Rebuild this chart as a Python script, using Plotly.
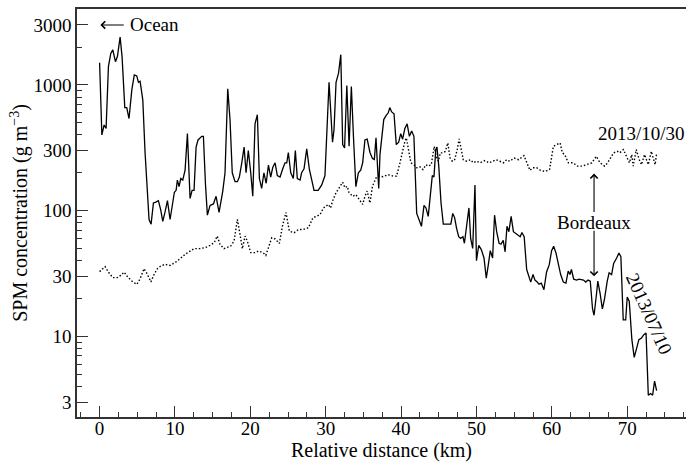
import math
import plotly.graph_objects as go

# ---- 2013/07/10 (solid) ----
jul_km = [0.0, 0.3, 0.6, 0.86, 1.17, 1.48, 1.75, 2.1, 2.36, 2.72, 2.98, 3.34, 3.6, 3.9, 4.27, 4.6, 4.93,
          5.15, 5.37, 5.73, 6.03, 6.34, 6.56, 6.83, 7.14, 7.45, 7.8, 8.1, 8.38, 8.69, 9.0, 9.35, 9.66,
          9.92, 10.15, 10.32, 10.54, 10.77, 11.03, 11.34, 11.65, 12.0, 12.27, 12.53, 12.8, 13.06, 13.55,
          13.77, 14.05, 14.3, 14.65, 15.1, 15.45, 15.85, 16.34, 16.64, 17.0, 17.3, 17.6, 17.97, 18.28,
          18.54, 18.86, 19.17, 19.43, 19.73, 20.05, 20.32, 20.62, 20.93, 21.2, 21.5, 21.8, 22.1, 22.4,
          22.7, 22.97, 23.28, 23.58, 23.94, 24.3, 24.6, 24.83, 25.04, 25.36, 25.7, 25.97, 26.23, 26.6,
          26.8, 27.12, 27.48, 27.82, 28.14, 28.45, 29.0, 29.47, 29.9, 30.44, 30.9, 31.1, 31.37, 31.7,
          32.0, 32.25, 32.5, 32.8, 33.1, 33.4, 33.7, 34.0, 34.33, 34.64, 34.9, 35.2, 35.5, 35.87, 36.2,
          36.45, 36.67, 37.03, 37.2, 37.47, 37.7, 38.0, 38.3, 38.5, 38.75, 39.06, 39.36, 39.68, 39.95,
          40.2, 40.5, 40.8, 41.1, 41.4, 41.7, 42.07, 42.4, 42.7, 43.04, 43.3, 43.6, 43.83, 44.14, 44.36,
          44.6, 44.76, 45.0, 45.3, 45.6, 46.05, 46.6, 46.85, 47.1, 47.37, 47.64, 47.9, 48.2, 48.4, 48.7,
          49.0, 49.23, 49.5, 49.8, 50.0, 50.3, 50.64, 51.0, 51.3, 51.57, 51.83, 52.14, 52.4, 52.68, 53.0,
          53.25, 53.55, 53.8, 54.05, 54.3, 54.6, 54.9, 55.2, 55.5, 55.8, 56.03, 56.33, 56.66, 57.0, 57.2,
          57.5, 57.76, 58.06, 58.3, 58.6, 58.95, 59.3, 59.65, 59.97, 60.24, 60.55, 60.85, 61.17, 61.52,
          61.87, 62.17, 62.4, 62.6, 62.9, 63.3, 63.6, 64.2, 64.5, 64.8, 65.1, 65.4, 65.6, 65.9, 66.1,
          66.4, 66.7, 66.8, 67.0, 67.35, 67.6, 67.93, 68.2, 68.6, 68.9, 69.16, 69.47, 69.8, 70.0, 70.27,
          70.62, 70.93, 71.24, 71.55, 71.9, 72.2, 72.5, 72.8, 73.1, 73.37, 73.63, 73.9]
jul_spm = [1500, 400, 480, 450, 1400, 1780, 1900, 1530, 1680, 2400, 1680, 660, 660, 540, 910, 1200, 1180,
           1050, 1070, 760, 290, 120, 85, 78, 115, 117, 120, 102, 82, 98, 120, 85, 115,
           140, 145, 175, 155, 180, 175, 210, 410, 125, 145, 145, 320, 365, 390,
           390, 160, 92, 110, 113, 130, 97, 143, 200, 930, 530, 200, 170, 170,
           185, 240, 320, 200, 300, 200, 130, 490, 580, 180, 150, 200, 165, 230,
           185, 220, 240, 190, 185, 215, 240, 240, 290, 200, 180, 300, 180, 175,
           200, 215, 310, 215, 175, 145, 145, 160, 190, 1050, 350, 440, 1050, 1240,
           1740, 335, 315, 990, 325, 970, 365, 155, 200, 210, 240, 365, 370, 290, 260,
           255, 380, 150, 280, 430, 530, 570, 600, 660, 610, 590, 335, 350, 410,
           370, 450, 490, 390, 430, 390, 95, 82, 75, 110, 105, 90, 130, 190, 185,
           305, 320, 225, 115, 78, 78, 78, 95, 88, 72, 62, 60, 62, 55, 75,
           105, 60, 50, 160, 40, 53, 49, 42, 29, 37, 48, 42, 92, 68, 55,
           54, 58, 47, 75, 68, 90, 68, 66, 64, 62, 67, 62, 34, 30, 27,
           31, 28, 27, 26, 26.5, 23.5, 32.5, 37, 48, 52, 46, 37, 31, 27,
           26.5, 33, 31, 34, 28.5, 28, 28.5, 28, 27, 28, 27.5, 16.5, 14.7, 21, 27.5,
           22, 16.5, 17.5, 20, 27.5, 32, 31, 38, 42, 46, 43, 13.5, 13.5, 20.5, 19,
           9.4, 6.8, 7.9, 9.4, 9.7, 10.3, 10.6, 3.4, 3.5, 3.4, 4.4, 3.7]

# ---- 2013/10/30 (dotted) ----
oct_km = [0.0, 0.73, 1.17, 1.75, 2.36, 2.8, 3.25, 3.7, 4.27, 4.93, 5.37, 5.9, 6.34, 6.8, 7.23, 7.67, 8.1,
          8.69, 9.35, 10.0, 10.7, 11.34, 12.0, 12.53, 13.24, 14.0, 14.65, 15.2, 15.6, 15.98, 16.5, 16.95,
          17.4, 17.84, 18.28, 18.63, 18.94, 19.3, 19.6, 20.05, 20.62, 21.05, 21.7, 22.05, 22.4, 22.84,
          23.28, 23.85, 24.25, 24.73, 25.17, 25.8, 26.4, 27.0, 27.7, 28.3, 28.8, 29.25, 29.7, 30.35,
          30.65, 30.9, 31.37, 31.9, 32.25, 32.55, 32.85, 33.1, 33.6, 34.0, 34.45, 34.9, 35.2, 35.5,
          35.87, 36.2, 36.67, 37.0, 37.6, 38.3, 38.95, 39.4, 39.85, 40.2, 40.5, 40.7, 40.95, 41.3, 41.7,
          42.07, 42.5, 42.9, 43.3, 43.6, 44.0, 44.4, 44.65, 44.95, 45.2, 45.5, 45.85, 46.2, 46.5, 46.8,
          47.1, 47.45, 47.7, 48.0, 48.25, 48.7, 49.2, 49.6, 50.0, 50.5, 51.1, 51.7, 52.1, 52.6, 53.1,
          53.6, 54.0, 54.4, 55.0, 55.6, 56.3, 56.6, 57.1, 57.5, 58.0, 58.5, 59.1, 59.7, 60.2, 60.6,
          61.1, 61.4, 61.7, 62.2, 62.8, 63.4, 64.0, 64.6, 65.3, 65.9, 66.4, 67.0, 67.4, 68.2, 68.7,
          69.0, 69.5, 69.9, 70.3, 70.6, 70.8, 71.2, 71.6, 71.9, 72.3, 72.8, 73.2, 73.7, 73.9]
oct_spm = [32.7, 35.8, 32.4, 29.3, 29.3, 30.5, 32.4, 29.8, 27.5, 25.9, 28.7, 34.5, 31.1, 27.1, 31.1, 34.5, 36.2,
           37.4, 36.6, 38.5, 41.5, 44.9, 47.6, 49.8, 49.8, 50.7, 52.9, 55.5, 62.7, 53.8, 49.8, 50.7,
           52.3, 57.2, 85, 64.6, 49.8, 62.7, 57.2, 46.3, 46.3, 47.6, 46.3, 44, 50.7, 60.8,
           59.5, 54.8, 75, 96.6, 68.6, 66.7, 70.8, 70.8, 73, 87.6, 90.3, 93, 105, 112,
           105, 119, 139, 156, 168, 152, 156, 139, 130, 134, 122, 112, 130, 143,
           115, 156, 182, 188, 186, 193, 188, 188, 240, 306, 355, 379, 306, 240, 232,
           219, 223, 212, 232, 226, 232, 324, 270, 247, 288, 288, 295, 345, 262, 247,
           254, 306, 372, 296, 254, 247, 254, 240, 247, 240, 250, 240, 247, 254, 247,
           240, 254, 247, 262, 254, 274, 247, 209, 219, 219, 209, 205, 212, 324, 335,
           345, 288, 279, 240, 240, 226, 226, 232, 240, 270, 240, 226, 240, 288, 296,
           288, 306, 270, 240, 279, 226, 306, 254, 232, 279, 232, 296, 232, 284]

y_major = [3, 10, 30, 100, 300, 1000, 3000]
y_minor = [4, 5, 6, 7, 8, 9, 20, 40, 50, 60, 70, 80, 90, 200, 400, 500, 600, 700, 800, 900, 2000]
x_major = [0, 10, 20, 30, 40, 50, 60, 70]

FONT = "Liberation Serif"
AX = "#333333"

fig = go.Figure()
fig.add_trace(go.Scatter(x=jul_km, y=jul_spm, mode="lines",
                         line=dict(color="black", width=1.3), showlegend=False))
fig.add_trace(go.Scatter(x=oct_km, y=oct_spm, mode="lines",
                         line=dict(color="black", width=1.4, dash="1.5px,2px"), showlegend=False))

L = math.log10
ann = []
# Ocean arrow + text
ann.append(dict(x=0.1, y=L(3000), ax=3.4, ay=L(3000), axref="x", ayref="y", xref="x", yref="y",
                text="", showarrow=True, arrowhead=4, arrowsize=1.3, arrowwidth=1.1, arrowcolor="black"))
ann.append(dict(x=3.7, y=L(3000), xref="x", yref="y", text="Ocean", showarrow=False,
                xanchor="left", yanchor="middle", font=dict(family=FONT, size=19, color="black")))
ann.append(dict(x=71.95, y=L(409), xref="x", yref="y", text="2013/10/30", showarrow=False,
                xanchor="center", yanchor="middle", font=dict(family=FONT, size=19, color="black")))
ann.append(dict(x=65.6, y=L(81), xref="x", yref="y", text="Bordeaux", showarrow=False,
                xanchor="center", yanchor="middle", font=dict(family=FONT, size=19, color="black")))
ann.append(dict(x=65.6, y=L(197), ax=65.6, ay=L(95), axref="x", ayref="y", xref="x", yref="y",
                text="", showarrow=True, arrowhead=4, arrowsize=1.3, arrowwidth=1.1, arrowcolor="black"))
ann.append(dict(x=65.6, y=L(30), ax=65.6, ay=L(71), axref="x", ayref="y", xref="x", yref="y",
                text="", showarrow=True, arrowhead=4, arrowsize=1.3, arrowwidth=1.1, arrowcolor="black"))
ann.append(dict(x=72.9, y=L(15.2), xref="x", yref="y", text="2013/07/10", showarrow=False,
                textangle=66, xanchor="center", yanchor="middle",
                font=dict(family=FONT, size=19, color="black")))

fig.update_layout(
    width=686, height=462,
    margin=dict(l=77, r=0, t=9, b=45),
    paper_bgcolor="white", plot_bgcolor="white",
    font=dict(family=FONT, size=19, color="black"),
    annotations=ann,
    xaxis=dict(
        range=[-3, 77.8], tickmode="array", tickvals=x_major,
        ticks="inside", ticklen=11, tickwidth=1.3, tickcolor=AX,
        ticklabelstandoff=-7,
        minor=dict(dtick=2.5, tick0=0, ticks="inside", ticklen=5, tickwidth=1.2, tickcolor=AX),
        showline=True, linecolor=AX, linewidth=1.5, mirror=True,
        showgrid=False, zeroline=False,
        tickfont=dict(family=FONT, size=19, color="black"),
        title=dict(text="Relative distance (km)", font=dict(family=FONT, size=20, color="black"),
                   standoff=9),
        automargin=False,
    ),
    yaxis=dict(
        type="log", range=[L(2.28), L(4018)],
        tickmode="array", tickvals=y_major, ticktext=[str(v) for v in y_major],
        ticks="inside", ticklen=11, tickwidth=1.3, tickcolor=AX,
        minor=dict(tickmode="array", tickvals=y_minor, ticks="inside", ticklen=5,
                   tickwidth=1.2, tickcolor=AX),
        showline=True, linecolor=AX, linewidth=1.5, mirror=False,
        showgrid=False, zeroline=False,
        tickfont=dict(family=FONT, size=19, color="black"),
        title=dict(text="SPM concentration (g m<sup>−3</sup>)",
                   font=dict(family=FONT, size=20, color="black"), standoff=0),
        automargin=False,
    ),
)

fig.write_html("out.html")
